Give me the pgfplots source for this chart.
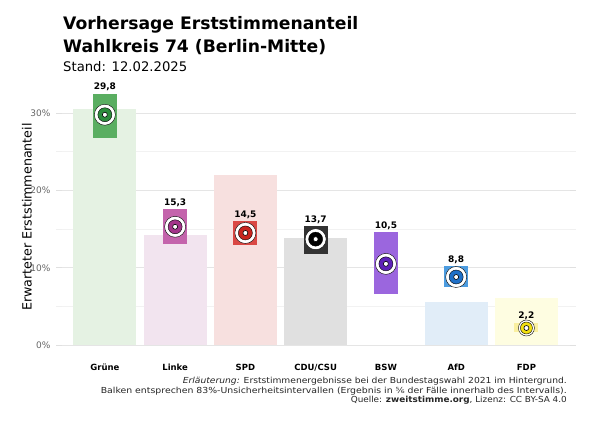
\documentclass[border=0pt]{standalone}
\usepackage{fontspec}
\setmainfont{DejaVu Sans}
\usepackage{graphicx}
\usepackage{pgfplots}
\pgfplotsset{compat=1.18}
\definecolor{grueneBg}{HTML}{E5F2E3}
\definecolor{grueneBar}{HTML}{5AAE61}
\definecolor{grueneDot}{HTML}{2C8C3C}
\definecolor{linkeBg}{HTML}{F2E4EF}
\definecolor{linkeBar}{HTML}{C464AC}
\definecolor{linkeDot}{HTML}{A3358A}
\definecolor{spdBg}{HTML}{F7E0DF}
\definecolor{spdBar}{HTML}{DA4844}
\definecolor{spdDot}{HTML}{C8251F}
\definecolor{cduBg}{HTML}{E0E0E0}
\definecolor{cduBar}{HTML}{333333}
\definecolor{cduDot}{HTML}{000000}
\definecolor{bswBar}{HTML}{9B66DE}
\definecolor{bswDot}{HTML}{5E22B8}
\definecolor{afdBg}{HTML}{E1EDF8}
\definecolor{afdBar}{HTML}{4C9CE0}
\definecolor{afdDot}{HTML}{1F70C8}
\definecolor{fdpBg}{HTML}{FEFDE1}
\definecolor{fdpBar}{HTML}{FAF0A0}
\definecolor{fdpDot}{HTML}{F2E010}
\begin{document}
\begin{tikzpicture}[x=1pt,y=1pt]
\path (-62,-79) rectangle (538,345);
\begin{axis}[
  at={(0,0)}, anchor=south west,
  width=508pt, height=255pt, scale only axis,
  xmin=-0.61, xmax=6.62, ymin=0, ymax=33,
  axis line style={draw=none},
  xtick={0,1,2,3,4,5,6},
  xticklabels={Grüne,Linke,SPD,CDU/CSU,BSW,AfD,FDP},
  x tick style={draw=none},
  xticklabel style={font=\bfseries\fontsize{8.5}{10}\selectfont, yshift=-9.5pt},
  ytick={0,10,20,30}, minor ytick={5,15,25},
  yticklabel={\pgfmathprintnumber{\tick}\%},
  yticklabel style={font=\fontsize{9}{10}\selectfont, text=black!60, xshift=-2pt},
  ymajorgrids, yminorgrids,
  major grid style={draw=black!10, line width=0.8pt},
  minor grid style={draw=black!5, line width=0.8pt},
  y tick style={draw=black!12, line width=0.8pt},
  minor y tick style={draw=black!6, line width=0.8pt},
  tick align=outside, major tick length=6pt, minor tick length=6pt,
  /pgf/number format/assume math mode=true,
  clip=false,
]
% Background bars: Erststimmen 2021
\addplot[ybar, bar width=0.9, fill=grueneBg, draw=none] coordinates {(0,30.5)};
\addplot[ybar, bar width=0.9, fill=linkeBg, draw=none] coordinates {(1,14.2)};
\addplot[ybar, bar width=0.9, fill=spdBg, draw=none] coordinates {(2,22.0)};
\addplot[ybar, bar width=0.9, fill=cduBg, draw=none] coordinates {(3,13.8)};
\addplot[ybar, bar width=0.9, fill=afdBg, draw=none] coordinates {(5,5.6)};
\addplot[ybar, bar width=0.9, fill=fdpBg, draw=none] coordinates {(6,6.1)};
% 83% intervals
\addplot[fill=grueneBar, draw=none] coordinates {(-0.17,26.8) (0.17,26.8) (0.17,32.5) (-0.17,32.5)};
\addplot[fill=linkeBar, draw=none] coordinates {(0.83,13.1) (1.17,13.1) (1.17,17.6) (0.83,17.6)};
\addplot[fill=spdBar, draw=none] coordinates {(1.83,12.9) (2.17,12.9) (2.17,16.0) (1.83,16.0)};
\addplot[fill=cduBar, draw=none] coordinates {(2.83,11.8) (3.17,11.8) (3.17,15.4) (2.83,15.4)};
\addplot[fill=bswBar, draw=none] coordinates {(3.83,6.6) (4.17,6.6) (4.17,14.6) (3.83,14.6)};
\addplot[fill=afdBar, draw=none] coordinates {(4.83,7.5) (5.17,7.5) (5.17,10.2) (4.83,10.2)};
\addplot[fill=fdpBar, draw=none] coordinates {(5.83,1.7) (6.17,1.7) (6.17,2.85) (5.83,2.85)};
% point estimates
\addplot[only marks, mark=*, mark size=10.5pt, mark options={fill=white, draw=none}] coordinates {(0,29.8) (1,15.3) (2,14.5) (3,13.7) (4,10.5) (5,8.8)};
\addplot[only marks, mark=*, mark size=8pt, mark options={fill=white, draw=none}] coordinates {(6,2.2)};
\addplot[only marks, mark=*, mark size=7pt, mark options={fill=grueneDot, draw=none}] coordinates {(0,29.8)};
\addplot[only marks, mark=*, mark size=7pt, mark options={fill=linkeDot, draw=none}] coordinates {(1,15.3)};
\addplot[only marks, mark=*, mark size=7pt, mark options={fill=spdDot, draw=none}] coordinates {(2,14.5)};
\addplot[only marks, mark=*, mark size=7pt, mark options={fill=cduDot, draw=none}] coordinates {(3,13.7)};
\addplot[only marks, mark=*, mark size=7pt, mark options={fill=bswDot, draw=none}] coordinates {(4,10.5)};
\addplot[only marks, mark=*, mark size=7pt, mark options={fill=afdDot, draw=none}] coordinates {(5,8.8)};
\addplot[only marks, mark=*, mark size=6pt, mark options={fill=fdpDot, draw=none}] coordinates {(6,2.2)};
\addplot[only marks, mark=*, mark size=2.5pt, mark options={fill=white, draw=black, line width=0.6pt}] coordinates {(0,29.8) (1,15.3) (2,14.5) (3,13.7) (4,10.5) (5,8.8) (6,2.2)};
% value labels
\begin{scope}[every node/.style={anchor=base, font=\bfseries\fontsize{9}{10}\selectfont, yshift=4pt}]
\node at (axis cs:0,32.5) {29,8};
\node at (axis cs:1,17.6) {15,3};
\node at (axis cs:2,16.0) {14,5};
\node at (axis cs:3,15.4) {13,7};
\node at (axis cs:4,14.6) {10,5};
\node at (axis cs:5,10.2) {8,8};
\node at (axis cs:6,2.85) {2,2};
\end{scope}
\end{axis}
% titles
\node[anchor=base west, font=\bfseries\fontsize{17.2}{20}\selectfont, inner sep=0pt] at (1,316) {Vorhersage Erststimmenanteil};
\node[anchor=base west, font=\bfseries\fontsize{17.2}{20}\selectfont, inner sep=0pt] at (1,292) {Wahlkreis 74 (Berlin-Mitte)};
\node[anchor=base west, font=\fontsize{13.2}{15}\selectfont, inner sep=0pt] at (1,273) {Stand: 12.02.2025};
% y label
\node[rotate=90, font=\fontsize{12.7}{14}\selectfont, inner sep=0pt] at (-35,128) {Erwarteter Erststimmenanteil};
% footnote
\begin{scope}[every node/.style={anchor=base east, inner sep=0pt, font=\fontsize{8.3}{10}\selectfont, text=black!85}]
\node at (505,-38) {\resizebox{384pt}{\height}{\textit{Erläuterung:} Erststimmenergebnisse bei der Bundestagswahl 2021 im Hintergrund.}};
\node at (505,-48) {\resizebox{466pt}{\height}{Balken entsprechen 83\%-Unsicherheitsintervallen (Ergebnis in ⅚ der Fälle innerhalb des Intervalls).}};
\node at (505,-57) {\resizebox{216pt}{\height}{Quelle: \textbf{zweitstimme.org}, Lizenz: CC BY-SA 4.0}};
\end{scope}
\end{tikzpicture}
\end{document}
